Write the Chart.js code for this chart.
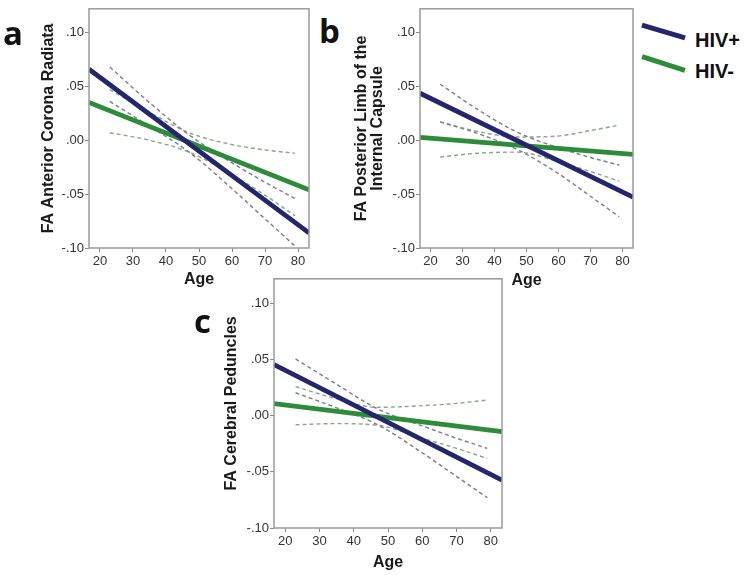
<!DOCTYPE html>
<html>
<head>
<meta charset="utf-8">
<script src="https://cdn.jsdelivr.net/npm/chart.js@4.4.0/dist/chart.umd.min.js"></script>
<style>
  body { margin: 0; background: #fff; width: 750px; height: 575px; position: relative; overflow: hidden; }
  canvas { position: absolute; }
  .letter { position: absolute; font-family: "Open Sans", sans-serif; font-weight: 700; font-size: 33px; line-height: 33px; color: #111; }
  .keyText { position: absolute; font-family: "Liberation Sans", Arial, sans-serif; font-weight: 700; font-size: 20px; line-height: 20px; color: #111; }
  .keyLine { position: absolute; height: 5px; transform-origin: center; }
</style>
</head>
<body>
<canvas id="chartA" width="295" height="294" style="left:20px;top:0px"></canvas>
<canvas id="chartB" width="296" height="294" style="left:340px;top:0px"></canvas>
<canvas id="chartC" width="305" height="305" style="left:200px;top:270px"></canvas>

<div class="letter" style="left:3px;top:16px">a</div>
<div class="letter" style="left:319px;top:14px">b</div>
<div class="letter" style="left:194px;top:304px">c</div>

<div class="keyLine" style="left:641px;top:29px;width:45px;background:#25256b;transform:rotate(16.7deg)"></div>
<div class="keyLine" style="left:641px;top:61px;width:45px;background:#2e8b3a;transform:rotate(17.9deg)"></div>
<div class="keyText" style="left:695px;top:30px">HIV+</div>
<div class="keyText" style="left:695px;top:61px">HIV-</div>

<script>
// Shared axes
const ageRange = [16.7, 83.3];
const ciAges = [23, 35, 47, 60, 70, 79];
const xTicks = [20, 30, 40, 50, 60, 70, 80];
const yTicks = [-0.10, -0.05, 0, 0.05, 0.10];
const yRange = [-0.10, 0.122];

// Panel a - FA Anterior Corona Radiata
const aPosFit = [0.066, -0.086];
const aNegFit = [0.035, -0.046];
const aPosUpper = [0.068, 0.035, 0.005, -0.021, -0.039, -0.054];
const aPosLower = [0.036, 0.013, -0.011, -0.045, -0.073, -0.098];
const aNegUpper = [0.047, 0.026, 0.007, -0.004, -0.009, -0.012];
const aNegLower = [0.007, 0.000, -0.011, -0.032, -0.051, -0.070];

// Panel b - FA Posterior Limb of the Internal Capsule
const bPosFit = [0.0436, -0.0528];
const bNegFit = [0.0027, -0.0132];
const bPosUpper = [0.052, 0.028, 0.0076, -0.007, -0.016, -0.023];
const bPosLower = [0.017, 0.006, -0.0084, -0.031, -0.052, -0.071];
const bNegUpper = [0.017, 0.008, 0.003, 0.004, 0.009, 0.014];
const bNegLower = [-0.0155, -0.012, -0.011, -0.020, -0.029, -0.038];

// Panel c - FA Cerebral Peduncles
const cPosFit = [0.0456, -0.0573];
const cNegFit = [0.0109, -0.0141];
const cPosUpper = [0.0506, 0.028, 0.006, -0.009, -0.020, -0.029];
const cPosLower = [0.0205, 0.007, -0.008, -0.033, -0.054, -0.073];
const cNegUpper = [0.026, 0.015, 0.0075, 0.009, 0.011, 0.014];
const cNegLower = [-0.008, -0.007, -0.0085, -0.020, -0.029, -0.038];

const NAVY = '#25256b';
const GREEN = '#2e8b3a';
const POS_DASH = '#7d7d90';
const NEG_DASH = '#86a888';
const FONT = '"Liberation Sans", Arial, sans-serif';

function pts(xs, ys) {
    return xs.map((x, i) => ({ x: x, y: ys[i] }));
}

function fmtY(v) {
    const s = Math.abs(v).toFixed(2).replace(/^0/, '');
    return (v < -1e-9 ? '-' : '') + s;
}

// draws the full box around the plot area
const framePlugin = {
    id: 'frame',
    afterDraw(chart) {
        const { ctx, chartArea: a } = chart;
        ctx.save();
        ctx.strokeStyle = '#9a9a9a';
        ctx.lineWidth = 1.5;
        ctx.strokeRect(a.left, a.top, a.right - a.left, a.bottom - a.top);
        ctx.restore();
    }
};

function fitLine(ys, color) {
    return { data: pts(ageRange, ys), borderColor: color, borderWidth: 4.8, pointRadius: 0, showLine: true, fill: false };
}

function ciLine(ys, color) {
    return { data: pts(ciAges, ys), borderColor: color, borderWidth: 1.4, borderDash: [4, 3], pointRadius: 0,
             showLine: true, fill: false, cubicInterpolationMode: 'monotone' };
}

function makePanel(id, cv, box, yTitle, yTitleX, yTitleLH, xTitleY, series) {
    const yAxisW = box.left - cv.x;
    const xAxisH = cv.y + cv.h - box.bottom;
    const yLH = 16 * yTitleLH;

    return new Chart(document.getElementById(id).getContext('2d'), {
        type: 'scatter',
        data: {
            datasets: [
                fitLine(series.posFit, NAVY),
                fitLine(series.negFit, GREEN),
                ciLine(series.posUpper, POS_DASH),
                ciLine(series.posLower, POS_DASH),
                ciLine(series.negUpper, NEG_DASH),
                ciLine(series.negLower, NEG_DASH)
            ]
        },
        options: {
            responsive: false,
            animation: false,
            layout: { padding: { top: box.top - cv.y, right: cv.x + cv.w - box.right, left: 0, bottom: 0 } },
            plugins: { legend: { display: false }, tooltip: { enabled: false } },
            scales: {
                x: {
                    type: 'linear',
                    min: ageRange[0],
                    max: ageRange[1],
                    afterBuildTicks: s => { s.ticks = xTicks.map(v => ({ value: v })); },
                    afterFit: s => { s.height = xAxisH; },
                    grid: { drawOnChartArea: false, drawTicks: true, tickLength: 4, color: '#888' },
                    border: { display: false },
                    ticks: { color: '#333', font: { size: 13, family: FONT }, padding: 2, maxRotation: 0, autoSkip: false },
                    title: {
                        display: true, text: 'Age', color: '#1a1a1a',
                        font: { size: 16, weight: 'bold', family: FONT, lineHeight: 1.2 },
                        padding: { top: 0, bottom: cv.y + cv.h - 9.6 - xTitleY }
                    }
                },
                y: {
                    min: yRange[0],
                    max: yRange[1],
                    afterBuildTicks: s => { s.ticks = yTicks.map(v => ({ value: v })); },
                    afterFit: s => { s.width = yAxisW; },
                    grid: { drawOnChartArea: false, drawTicks: true, tickLength: 4, color: '#888' },
                    border: { display: false },
                    ticks: { color: '#333', font: { size: 13, family: FONT }, padding: 1, callback: v => fmtY(v) },
                    title: {
                        display: true, text: yTitle, color: '#1a1a1a',
                        font: { size: 16, weight: 'bold', family: FONT, lineHeight: yTitleLH },
                        padding: { top: yTitleX - cv.x - yLH / 2, bottom: 0 }
                    }
                }
            }
        },
        plugins: [framePlugin]
    });
}

makePanel('chartA', { x: 20, y: 0, w: 295, h: 294 }, { left: 89, top: 4, right: 309, bottom: 248 },
    'FA Anterior Corona Radiata', 49, 1.2, 280,
    { posFit: aPosFit, negFit: aNegFit, posUpper: aPosUpper, posLower: aPosLower, negUpper: aNegUpper, negLower: aNegLower });

makePanel('chartB', { x: 340, y: 0, w: 296, h: 294 }, { left: 420, top: 4, right: 633, bottom: 248 },
    ['FA Posterior Limb of the', 'Internal Capsule'], 362, 1.0, 281,
    { posFit: bPosFit, negFit: bNegFit, posUpper: bPosUpper, posLower: bPosLower, negUpper: bNegUpper, negLower: bNegLower });

makePanel('chartC', { x: 200, y: 270, w: 305, h: 305 }, { left: 274, top: 277, right: 502, bottom: 528 },
    'FA Cerebral Peduncles', 232, 1.2, 562.5,
    { posFit: cPosFit, negFit: cNegFit, posUpper: cPosUpper, posLower: cPosLower, negUpper: cNegUpper, negLower: cNegLower });
</script>
</body>
</html>
